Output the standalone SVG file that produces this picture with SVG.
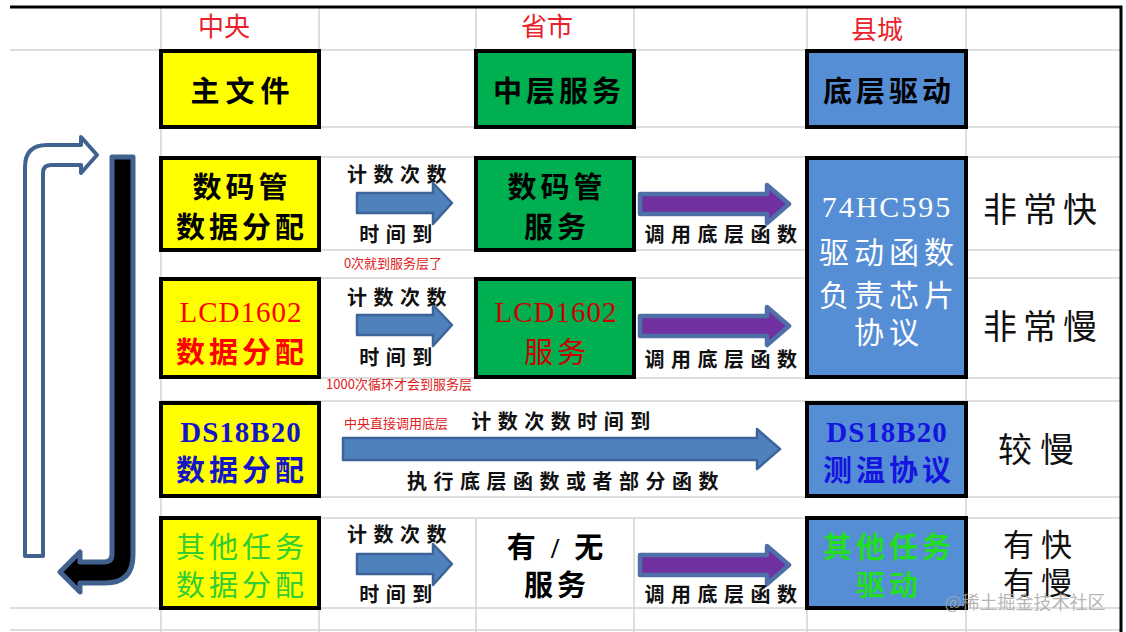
<svg xmlns="http://www.w3.org/2000/svg" width="1126" height="632" viewBox="0 0 1126 632">
<style>
.grid{stroke:#d4d4d4;stroke-width:1.5;fill:none}
.border{stroke:#000;stroke-width:3;fill:none}
.box{stroke:#000;stroke-width:4}
.yel{fill:#ffff00}
.grn{fill:#00b050}
.blu{fill:#558ed5}
.hdr{font-family:"Noto Sans CJK SC",sans-serif;font-size:26px;fill:#e8212a;text-anchor:middle}
.bt{font-family:"Liberation Serif","Noto Sans CJK SC",serif;font-size:29px;font-weight:bold;text-anchor:middle;letter-spacing:4px}
.lat{font-family:"Liberation Serif","Noto Sans CJK SC",serif;font-size:29px;text-anchor:middle;letter-spacing:1px}
.lbl{font-family:"Liberation Serif","Noto Sans CJK SC",serif;font-size:20px;font-weight:bold;fill:#111;text-anchor:middle;letter-spacing:6.5px}
.note{font-family:"Noto Sans CJK SC",sans-serif;font-size:13px;fill:#e02020;text-anchor:middle}
.spd{font-family:"Noto Sans CJK SC",sans-serif;font-size:34px;fill:#111;text-anchor:middle;letter-spacing:6px}
.barr{fill:#4f81bd;stroke:#3d6499;stroke-width:2.5;stroke-linejoin:round}
.parr{fill:#7030a0;stroke:#4f6fa8;stroke-width:4.5;stroke-linejoin:round}
</style>
<rect x="0" y="0" width="1126" height="632" fill="#fff"/>
<g id="grid">
<path class="grid" d="M10,50H1121M161,127H1121M161,157H1121M161,250H1121M161,278H1121M161,378H1121M161,401H1121M161,497H1121M161,518H1121M10,608H1121M10,630H1121"/>
<path class="grid" d="M161,7V632M319,7V50M476,7V50M634,7V50M807,7V50M966,7V632M319,518V632M476,518V632M634,518V632M807,608V632"/>
<path class="border" d="M10,7H1121V632"/>
</g>
<g id="headers">
<text class="hdr" x="224" y="36">中央</text>
<text class="hdr" x="547" y="36">省市</text>
<text class="hdr" x="877" y="39">县城</text>
</g>
<g id="node-main">
<rect class="box yel" x="161" y="51" width="158" height="76"/>
<text class="bt" x="243" y="102" fill="#000" style="letter-spacing:6px">主文件</text>
</g>
<g id="node-mid">
<rect class="box grn" x="476" y="51" width="158" height="76"/>
<text class="bt" x="559" y="102" fill="#000">中层服务</text>
</g>
<g id="node-low">
<rect class="box blu" x="807" y="51" width="159" height="76"/>
<text class="bt" x="889" y="102" fill="#000">底层驱动</text>
</g>
<g id="node-seg-data">
<rect class="box yel" x="161" y="158" width="158" height="92"/>
<text class="bt" x="242" y="198" fill="#000">数码管</text>
<text class="bt" x="242" y="238" fill="#000">数据分配</text>
</g>
<g id="node-seg-svc">
<rect class="box grn" x="476" y="158" width="158" height="92"/>
<text class="bt" x="557" y="198" fill="#000">数码管</text>
<text class="bt" x="557" y="238" fill="#000">服务</text>
</g>
<g id="node-595">
<rect class="box blu" x="807" y="158" width="159" height="219"/>
<g fill="#fff" font-family="'Liberation Serif','Noto Sans CJK SC',serif" font-size="30" text-anchor="middle">
<text x="887" y="217" letter-spacing="2">74HC595</text>
<text x="889" y="263" letter-spacing="5">驱动函数</text>
<text x="889" y="306" letter-spacing="5">负责芯片</text>
<text x="889" y="343" letter-spacing="5">协议</text>
</g>
</g>
<g id="node-lcd-data">
<rect class="box yel" x="161" y="279" width="158" height="98"/>
<text class="lat" x="241" y="322" fill="#ff0000">LCD1602</text>
<text class="bt" x="242" y="363" fill="#ff0000">数据分配</text>
</g>
<g id="node-lcd-svc">
<rect class="box grn" x="476" y="279" width="158" height="98"/>
<text class="lat" x="556" y="322" fill="#cc0000">LCD1602</text>
<text class="bt" x="557" y="363" fill="#cc0000" style="font-weight:normal">服务</text>
</g>
<g id="node-ds-data">
<rect class="box yel" x="161" y="403" width="158" height="93"/>
<text class="lat" x="241" y="442" fill="#1515c8" style="font-weight:bold">DS18B20</text>
<text class="bt" x="242" y="481" fill="#1515c8">数据分配</text>
</g>
<g id="node-ds-drv">
<rect class="box blu" x="807" y="403" width="159" height="93"/>
<text class="lat" x="887" y="442" fill="#1515e0" style="font-weight:bold">DS18B20</text>
<text class="bt" x="889" y="481" fill="#1515e0">测温协议</text>
</g>
<g id="node-oth-data">
<rect class="box yel" x="161" y="518" width="158" height="90"/>
<text class="bt" x="242" y="558" fill="#33cc33" style="font-weight:normal">其他任务</text>
<text class="bt" x="242" y="596" fill="#33cc33" style="font-weight:normal">数据分配</text>
</g>
<g id="node-oth-svc">
<text class="bt" x="557" y="558" fill="#000">有 / 无</text>
<text class="bt" x="557" y="596" fill="#000">服务</text>
</g>
<g id="node-oth-drv">
<rect class="box blu" x="807" y="518" width="159" height="90"/>
<text class="bt" x="889" y="558" fill="#22dd22">其他任务</text>
<text class="bt" x="889" y="596" fill="#22dd22">驱动</text>
</g>
<g id="speed">
<text class="spd" x="1043" y="222">非常快</text>
<text class="spd" x="1043" y="339">非常慢</text>
<text class="spd" x="1040" y="462" style="letter-spacing:8px">较慢</text>
<text class="spd" x="1041" y="556" style="letter-spacing:7px;font-size:31px">有快</text>
<text class="spd" x="1041" y="594" style="letter-spacing:7px;font-size:31px">有慢</text>
</g>
<g id="connectors">
<path d="M25,556V167Q25,145 47,145H81V137L97,155L81,173V165H51Q43,165 43,173V556Z" fill="#fff" stroke="#41628f" stroke-width="4" stroke-linejoin="round"/>
<path d="M112,157H133V555Q133,583 105,583H80V592L60,572L80,552V562H104Q112,562 112,554Z" fill="#000" stroke="#41628f" stroke-width="5" stroke-linejoin="round"/>
<path class="barr" transform="translate(357,203)" d="M0,-10H76V-20L95,0L76,21V10H0Z"/>
<path class="barr" transform="translate(357,325)" d="M0,-10H76V-20L95,0L76,21V10H0Z"/>
<path class="barr" transform="translate(357,564)" d="M0,-10H76V-20L95,0L76,21V10H0Z"/>
<path class="barr" transform="translate(343,449)" d="M0,-11H414V-20L437,0L414,20V11H0Z"/>
<path class="parr" transform="translate(640,204)" d="M0,-10H127V-19L149,0L127,19V10H0Z"/>
<path class="parr" transform="translate(640,326)" d="M0,-10H127V-19L149,0L127,19V10H0Z"/>
<path class="parr" transform="translate(640,565)" d="M0,-10H127V-19L149,0L127,19V10H0Z"/>
</g>
<g id="labels">
<text class="lbl" x="400" y="182">计数次数</text>
<text class="lbl" x="399" y="242">时间到</text>
<text class="lbl" x="400" y="305">计数次数</text>
<text class="lbl" x="399" y="365">时间到</text>
<text class="lbl" x="400" y="542">计数次数</text>
<text class="lbl" x="399" y="602">时间到</text>
<text class="lbl" x="724" y="242">调用底层函数</text>
<text class="lbl" x="724" y="367">调用底层函数</text>
<text class="lbl" x="724" y="602">调用底层函数</text>
<text class="lbl" x="564" y="429">计数次数时间到</text>
<text class="lbl" x="566" y="489">执行底层函数或者部分函数</text>
<text class="note" x="393" y="268">0次就到服务层了</text>
<text class="note" x="399" y="389">1000次循环才会到服务层</text>
<text class="note" x="396" y="428">中央直接调用底层</text>
</g>
<text x="1025" y="609" font-family="'Noto Sans CJK SC',sans-serif" font-size="18" fill="#a8a8a8" fill-opacity="0.85" text-anchor="middle">@稀土掘金技术社区</text>
</svg>
